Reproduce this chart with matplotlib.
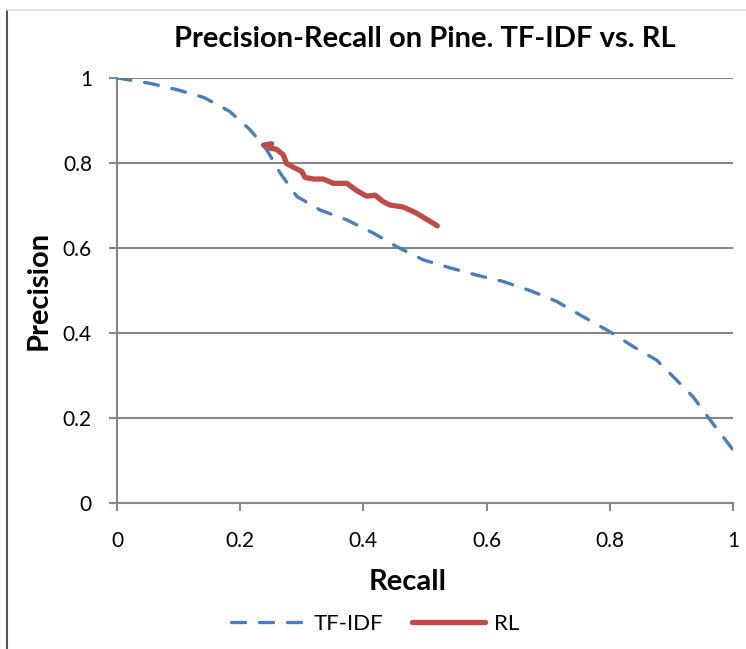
import matplotlib.pyplot as plt
from matplotlib.lines import Line2D

# TF-IDF curve
tfidf_recall = [0.0, 0.054, 0.098, 0.141, 0.183, 0.216, 0.243, 0.265, 0.292, 0.330,
                0.373, 0.416, 0.454, 0.497, 0.541, 0.584, 0.627, 0.670, 0.714, 0.752,
                0.800, 0.838, 0.876, 0.903, 0.935, 0.963, 1.0]
tfidf_precision = [1.0, 0.987, 0.972, 0.954, 0.921, 0.878, 0.831, 0.776, 0.721, 0.689,
                   0.666, 0.635, 0.603, 0.572, 0.553, 0.536, 0.521, 0.500, 0.474, 0.442,
                   0.403, 0.368, 0.336, 0.297, 0.250, 0.195, 0.125]

# RL curve
rl_recall = [0.238, 0.251, 0.248, 0.259, 0.270, 0.275, 0.286, 0.300, 0.305, 0.319,
             0.335, 0.351, 0.373, 0.389, 0.405, 0.419, 0.432, 0.443, 0.465, 0.486, 0.520]
rl_precision = [0.842, 0.845, 0.835, 0.832, 0.819, 0.799, 0.790, 0.780, 0.766, 0.762,
                0.762, 0.752, 0.752, 0.735, 0.722, 0.724, 0.709, 0.701, 0.696, 0.682, 0.652]

xticks = [0, 0.2, 0.4, 0.6, 0.8, 1]
yticks = [0, 0.2, 0.4, 0.6, 0.8, 1]
tick_labels = ['0', '0.2', '0.4', '0.6', '0.8', '1']

plt.rcParams['font.family'] = ['Lato', 'DejaVu Sans']

fig = plt.figure(figsize=(7.46, 6.49), dpi=100)
ax = fig.add_axes([0.1568, 0.225, 0.8258, 0.655])

grid_col = '#868686'
ax.plot(tfidf_recall, tfidf_precision, color='#4A7EBB', lw=2.4, ls=(0, (4.2, 4.2)),
        dash_capstyle='round', label='TF-IDF', zorder=3)
ax.plot(rl_recall, rl_precision, color='#BE4B48', lw=3.8, solid_capstyle='round',
        solid_joinstyle='round', label='RL', zorder=4)

ax.set_xlim(0, 1)
ax.set_ylim(0, 1)
ax.set_xticks(xticks)
ax.set_xticklabels(tick_labels)
ax.set_yticks(yticks)
ax.set_yticklabels(tick_labels)
ax.grid(axis='y', color=grid_col, lw=1.5)
ax.set_axisbelow(True)
for s in ['top', 'right']:
    ax.spines[s].set_visible(False)
for s in ['left', 'bottom']:
    ax.spines[s].set_color(grid_col)
    ax.spines[s].set_linewidth(1.5)
ax.tick_params(axis='x', direction='out', length=6, width=1.5, color=grid_col,
               labelsize=15, pad=14)
ax.tick_params(axis='y', direction='out', length=6, width=1.5, color=grid_col,
               labelsize=15, pad=12)

ax.set_title('Precision-Recall on Pine. TF-IDF vs. RL', fontsize=21, fontweight='bold', pad=22)
ax.set_xlabel('Recall', fontsize=21, fontweight='bold')
ax.xaxis.set_label_coords(0.471, -0.155)
ax.set_ylabel('Precision', fontsize=21, fontweight='bold', labelpad=8)

fig.legend(loc='center', bbox_to_anchor=(0.503, 0.039), ncol=2, frameon=False,
           fontsize=16, handlelength=3.3, columnspacing=1.3, handletextpad=0.4)

# chart border remnants
fig.add_artist(Line2D([0.0094, 0.0094], [0.0, 0.985], transform=fig.transFigure,
                      color='#555555', lw=1.5))
fig.add_artist(Line2D([0.0094, 1.0], [0.985, 0.985], transform=fig.transFigure,
                      color='#dddddd', lw=1.2))

fig.savefig('out.png', dpi=100)
